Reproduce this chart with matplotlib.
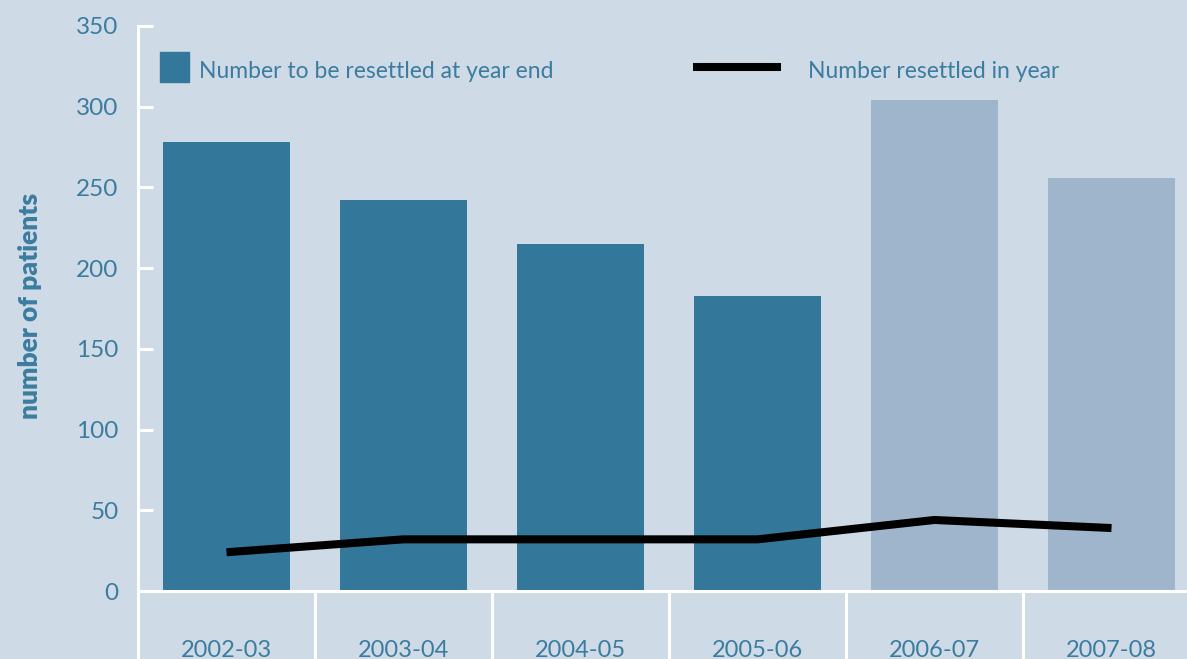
import matplotlib
matplotlib.use("Agg")
import matplotlib.pyplot as plt
from matplotlib.patches import Rectangle
from matplotlib.lines import Line2D

# Patients awaiting resettlement and patients resettled, by financial year
years = ["2002-03", "2003-04", "2004-05", "2005-06", "2006-07", "2007-08"]
to_be_resettled = [278, 242, 215, 183, 304, 256]
resettled_in_year = [24, 32, 32, 32, 44, 39]
highlight = [False, False, False, False, True, True]
yticks = [0, 50, 100, 150, 200, 250, 300, 350]

BG = "#cedae5"
DARK = "#33779b"
LIGHT = "#9eb5cc"
TEXT = "#3b7ca0"
FONT = "Lato"

W, H = 1187, 659
fig = plt.figure(figsize=(W / 100, H / 100), dpi=100, facecolor=BG)

# axes spans from the y axis (x=138) to one category width past the right edge
left, right, bottom, top = 138, 1200, 591, 26
ax = fig.add_axes([left / W, (H - bottom) / H, (right - left) / W, (bottom - top) / H])
ax.set_facecolor(BG)

x = list(range(len(years)))
colors = [LIGHT if h else DARK for h in highlight]
ax.bar(x, to_be_resettled, width=0.723, color=colors, zorder=2)
ax.plot(x, resettled_in_year, color="black", lw=5.8, solid_capstyle="butt",
        solid_joinstyle="miter", zorder=3)

ax.set_xlim(-0.5, len(years) - 0.5)
ax.set_ylim(0, 350)

for s in ["top", "right"]:
    ax.spines[s].set_visible(False)
for s in ["left", "bottom"]:
    ax.spines[s].set_color("white")
    ax.spines[s].set_linewidth(2.2)

ax.set_yticks(yticks)
ax.tick_params(axis="y", direction="in", length=11, width=2.2, color="white",
               pad=14, labelsize=17.5, labelcolor=TEXT)

# category separators below the axis, labels centred between them
ax.set_xticks([i - 0.5 for i in range(len(years) + 1)])
ax.set_xticklabels([])
ax.tick_params(axis="x", which="major", direction="out", length=50, width=2.2,
               color="white")
ax.set_xticks(x, minor=True)
ax.set_xticklabels(years, minor=True)
ax.tick_params(axis="x", which="minor", length=0, pad=35, labelsize=17,
               labelcolor=TEXT)

for lab in ax.get_xticklabels(minor=True) + ax.get_yticklabels():
    lab.set_fontfamily(FONT)

ax.set_ylabel("number of patients", fontsize=19, fontweight="heavy", color=TEXT,
              fontfamily=FONT)
ax.yaxis.set_label_coords((42 - left) / (right - left), (bottom - 306) / (bottom - top))

# legend drawn in figure pixel positions
fig.patches.append(Rectangle((160 / W, (H - 82) / H), 29 / W, 30 / H,
                             transform=fig.transFigure, color=DARK))
fig.text(199 / W, (H - 72) / H, "Number to be resettled at year end",
         fontsize=16.5, color=TEXT, va="center", ha="left", fontfamily=FONT)
fig.lines.append(Line2D([693 / W, 781 / W], [(H - 67) / H] * 2,
                        transform=fig.transFigure, color="black", lw=5.8,
                        solid_capstyle="butt"))
fig.text(808 / W, (H - 72) / H, "Number resettled in year",
         fontsize=16.5, color=TEXT, va="center", ha="left", fontfamily=FONT)

fig.savefig("out.png", dpi=100, facecolor=BG)
